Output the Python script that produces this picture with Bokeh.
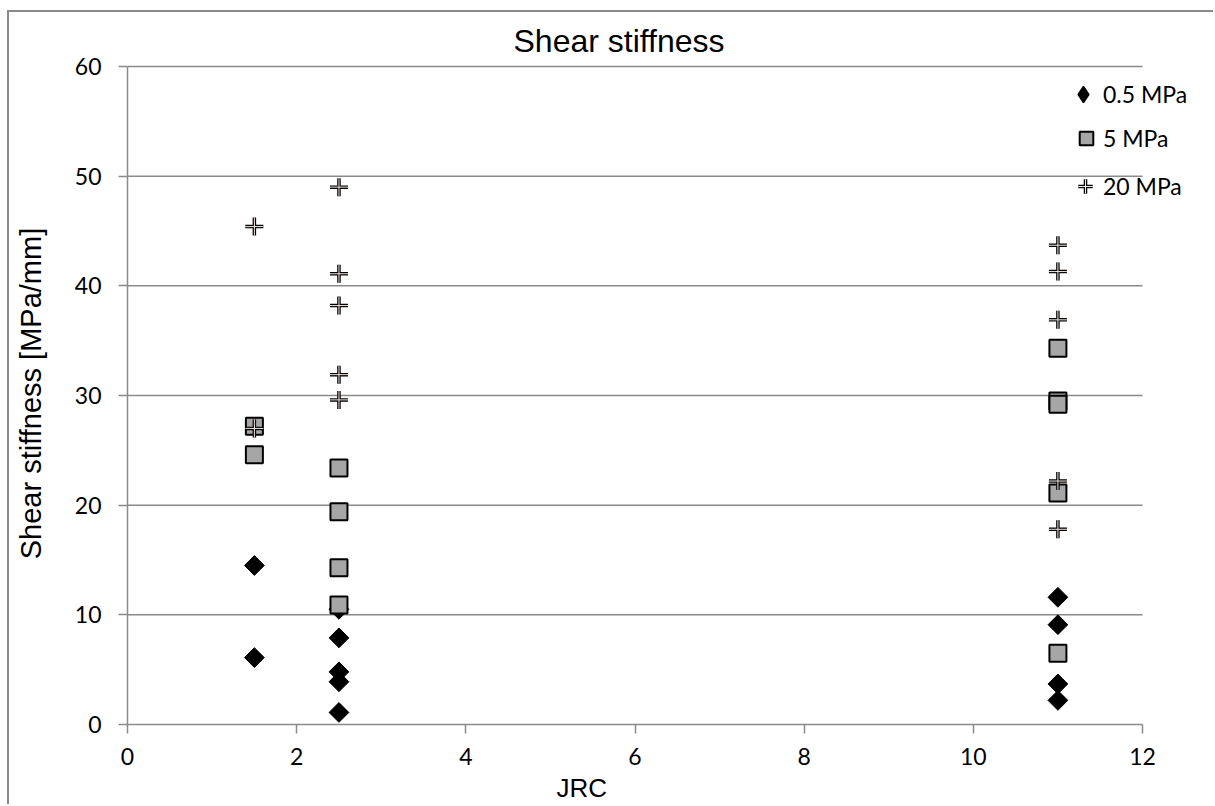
from bokeh.plotting import figure
from bokeh.models import Range1d, Legend, LegendItem, FixedTicker, Title
from bokeh.embed import file_html
from bokeh.resources import INLINE
import math

# ---- data ----
x_05 = [1.5, 1.5, 2.5, 2.5, 2.5, 2.5, 2.5, 11, 11, 11, 11]
y_05 = [14.5, 6.1, 10.5, 7.9, 4.8, 3.9, 1.1, 11.6, 9.1, 3.7, 2.2]

x_5 = [1.5, 1.5, 2.5, 2.5, 2.5, 2.5, 11, 11, 11, 11, 11]
y_5 = [27.2, 24.6, 23.4, 19.4, 14.3, 10.9, 34.3, 29.5, 29.2, 21.1, 6.5]

x_20 = [1.5, 1.5, 2.5, 2.5, 2.5, 2.5, 2.5, 11, 11, 11, 11, 11]
y_20 = [45.4, 27.0, 49.0, 41.1, 38.2, 31.9, 29.6, 43.7, 41.3, 36.9, 22.2, 17.8]

series_names = ["0.5 MPa", "5 MPa", "20 MPa"]
x_ticks = [0, 2, 4, 6, 8, 10, 12]
y_ticks = [0, 10, 20, 30, 40, 50, 60]

GRID = "#8a8a8a"
TICK_FONT = "Lato"
LABEL_FONT = "Liberation Sans"

# pixel layout (window coords): axis 0..12 spans 127..1142, 0..60 spans 724..66
FRAME_L, AXIS_R, FRAME_R = 127, 1142, 1205
FRAME_B, AXIS_T, FRAME_T = 724, 66, 62
x_end = x_ticks[-1] * (FRAME_R - FRAME_L) / (AXIS_R - FRAME_L)
y_end = y_ticks[-1] * (FRAME_B - FRAME_T) / (FRAME_B - AXIS_T)

OX, OY = 9, 12  # canvas origin in window (margin + border)
W, H = 1215 - OX, 806 - OY

p = figure(width=W, height=H, output_backend="svg", toolbar_location=None,
           x_range=Range1d(0, x_end), y_range=Range1d(0, y_end),
           min_border_left=FRAME_L - OX, min_border_right=W - (FRAME_R - OX),
           min_border_top=FRAME_T - OY, min_border_bottom=H - (FRAME_B - OY))
p.styles = {"margin-left": "7px", "margin-top": "10px",
            "border-left": "2px solid #8a8a8a", "border-top": "2px solid #8a8a8a"}
p.outline_line_color = None
p.background_fill_color = "white"
p.border_fill_color = "white"

# title
p.title = Title(text="Shear stiffness", align="left", offset=386,
                text_font=LABEL_FONT, text_font_size="32px", text_font_style="normal",
                text_color="black", standoff=8)

# axes
for ax in (p.xaxis, p.yaxis):
    ax.axis_line_color = GRID
    ax.axis_line_width = 1.5
    ax.major_tick_line_color = GRID
    ax.major_tick_line_width = 1.5
    ax.major_tick_out = 9
    ax.major_tick_in = 0
    ax.minor_tick_line_color = None
    ax.major_label_text_font = TICK_FONT
    ax.major_label_text_font_size = "23px"
    ax.major_label_text_color = "black"
    ax.axis_label_text_font = LABEL_FONT
    ax.axis_label_text_font_style = "normal"
    ax.axis_label_text_color = "black"

p.xaxis.ticker = FixedTicker(ticks=x_ticks)
p.yaxis.ticker = FixedTicker(ticks=y_ticks)
p.xaxis.bounds = (x_ticks[0], x_ticks[-1])
p.yaxis.bounds = (y_ticks[0], y_ticks[-1])
p.yaxis.axis_label = "Shear stiffness [MPa/mm]"
p.yaxis.axis_label_text_font_size = "29px"
p.xaxis.major_label_standoff = 14
p.yaxis.major_label_standoff = 17
p.yaxis.axis_label_standoff = 25

# x axis title placed under the axis
p.add_layout(Title(text="JRC", align="left", offset=429,
                   text_font=LABEL_FONT, text_font_size="26px", text_font_style="normal",
                   text_color="black", standoff=6), "below")

# horizontal gridlines limited to the axis extent
p.xgrid.grid_line_color = None
p.ygrid.grid_line_color = None
p.segment(x0=[x_ticks[0]] * (len(y_ticks) - 1), x1=[x_ticks[-1]] * (len(y_ticks) - 1),
          y0=y_ticks[1:], y1=y_ticks[1:], line_color=GRID, line_width=1.5)

# series
r05 = p.scatter(x_05, y_05, marker="square", angle=math.pi / 4, size=14,
                fill_color="black", line_color="black", line_width=1)
r5 = p.scatter(x_5, y_5, marker="square", size=17,
               fill_color="#a6a6a6", line_color="black", line_width=2)
r20a = p.scatter(x_20, y_20, marker="cross", size=18,
                 line_color="black", line_width=3.5)
r20b = p.scatter(x_20, y_20, marker="cross", size=18,
                 line_color="#f3e9e3", line_width=1)
# legend-only glyph for the diamond (legend ignores marker angle)
r05_leg = p.scatter(x_05, y_05, marker="diamond", size=14,
                    fill_color="black", line_color="black", line_width=1.5, visible=False)

TEXT_X = 1103


def add_legend(label, renderers, box, cy):
    # label starts at TEXT_X; glyph box sits immediately left of it
    lg = Legend(items=[LegendItem(label=label, renderers=renderers)],
                location=(TEXT_X - box - FRAME_L, FRAME_B - (cy + box / 2)),
                glyph_width=box, glyph_height=box, label_height=box,
                label_standoff=0, padding=0, margin=0,
                border_line_alpha=0, background_fill_alpha=0,
                label_text_font=TICK_FONT, label_text_font_size="23px",
                label_text_color="black")
    p.add_layout(lg, "center")


add_legend(series_names[0], [r05_leg], 40, 94)
add_legend(series_names[1], [r5], 34, 138)
add_legend(series_names[2], [r20a, r20b], 36, 186)

open("out.html", "w").write(file_html(p, INLINE))
